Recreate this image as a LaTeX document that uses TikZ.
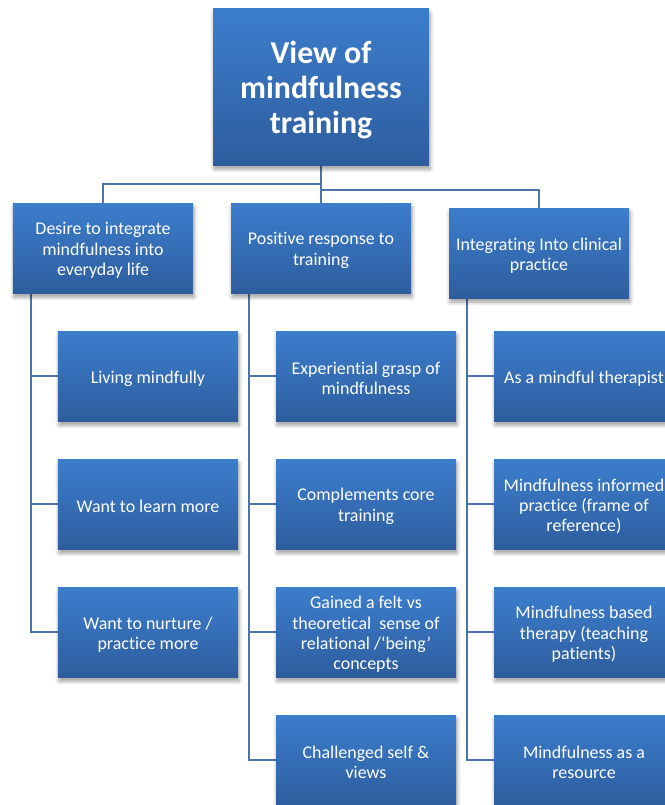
\documentclass[tikz,border=0pt]{standalone}
\usepackage{fontspec}
\setmainfont[Ligatures={NoCommon}]{Carlito}
\usetikzlibrary{shadows.blur}
\definecolor{boxtop}{HTML}{3C7ECD}
\definecolor{boxbot}{HTML}{2E5D9E}
\definecolor{linec}{HTML}{4D74AA}
\tikzset{
  box/.style={rectangle, top color=boxtop, bottom color=boxbot, draw=none,
    minimum width=180bp, minimum height=90bp, inner sep=0pt,
    blur shadow={shadow xshift=1bp, shadow yshift=-4bp, shadow blur radius=4bp, shadow opacity=40},
    label={[boxtext]center:{#1}}},
  boxtext/.style={text=white, align=center, inner sep=0pt, yshift=-2.5bp,
    font=\fontsize{18}{20.5}\selectfont},
  titlebox/.style={rectangle, top color=boxtop, bottom color=boxbot, draw=none,
    minimum width=216bp, minimum height=156bp, inner sep=0pt,
    blur shadow={shadow xshift=1bp, shadow yshift=-4bp, shadow blur radius=4bp, shadow opacity=40},
    label={[titletext]center:{#1}}},
  titletext/.style={text=white, align=center, inner sep=0pt, yshift=-3bp,
    font=\fontsize{32}{35}\selectfont\bfseries},
  conn/.style={draw=linec, line width=1.8bp}
}
\begin{document}
\begin{tikzpicture}[x=1bp,y=-1bp]
\useasboundingbox (0,0) rectangle (665,805);
\clip (0,0) rectangle (665,805);
% coordinates for connectors
\coordinate (tb) at (321,165);
\coordinate (hl) at (321,184);
\coordinate (hr) at (321,190);
\coordinate (l1n) at (103,203);
\coordinate (m1n) at (321,203);
\coordinate (r1n) at (539,208);
\coordinate (ls) at (31,293);
\coordinate (ms) at (249,293);
\coordinate (rs) at (467,298);
% connectors
\draw[conn] (tb) -- (m1n);
\draw[conn] (hl) -| (l1n);
\draw[conn] (hr) -| (r1n);
\coordinate (c11w) at (58,376);
\coordinate (c12w) at (58,504);
\coordinate (c13w) at (58,632);
\coordinate (c21w) at (276,376);
\coordinate (c22w) at (276,504);
\coordinate (c23w) at (276,632);
\coordinate (c24w) at (276,760);
\coordinate (c31w) at (494,376);
\coordinate (c32w) at (494,504);
\coordinate (c33w) at (494,632);
\coordinate (c34w) at (494,760);
\draw[conn] (ls) |- (c13w);
\draw[conn] (ls) |- (c12w);
\draw[conn] (ls) |- (c11w);
\draw[conn] (ms) |- (c24w);
\draw[conn] (ms) |- (c23w);
\draw[conn] (ms) |- (c22w);
\draw[conn] (ms) |- (c21w);
\draw[conn] (rs) |- (c34w);
\draw[conn] (rs) |- (c33w);
\draw[conn] (rs) |- (c32w);
\draw[conn] (rs) |- (c31w);
% boxes
\node[titlebox={View of\\mindfulness\\training}] (top) at (321,87) {};
\node[box={Desire to integrate\\mindfulness into\\everyday life}] (l1) at (103,248) {};
\node[box={Positive response to\\training}] (m1) at (321,248) {};
\node[box={Integrating Into clinical\\practice}] (r1) at (539,253) {};
\node[box={Living mindfully}] (c11) at (148,376) {};
\node[box={Want to learn more}] (c12) at (148,504) {};
\node[box={Want to nurture /\\practice more}] (c13) at (148,632) {};
\node[box={Experiential grasp of\\mindfulness}] (c21) at (366,376) {};
\node[box={Complements core\\training}] (c22) at (366,504) {};
\node[box={Gained a felt vs\\theoretical\ \ sense of\\relational /‘being’\\concepts}] (c23) at (366,632) {};
\node[box={Challenged self \&\\views}] (c24) at (366,760) {};
\node[box={As a mindful therapist}] (c31) at (584,376) {};
\node[box={Mindfulness informed\\practice (frame of\\reference)}] (c32) at (584,504) {};
\node[box={Mindfulness based\\therapy (teaching\\patients)}] (c33) at (584,632) {};
\node[box={Mindfulness as a\\resource}] (c34) at (584,760) {};
\end{tikzpicture}
\end{document}
